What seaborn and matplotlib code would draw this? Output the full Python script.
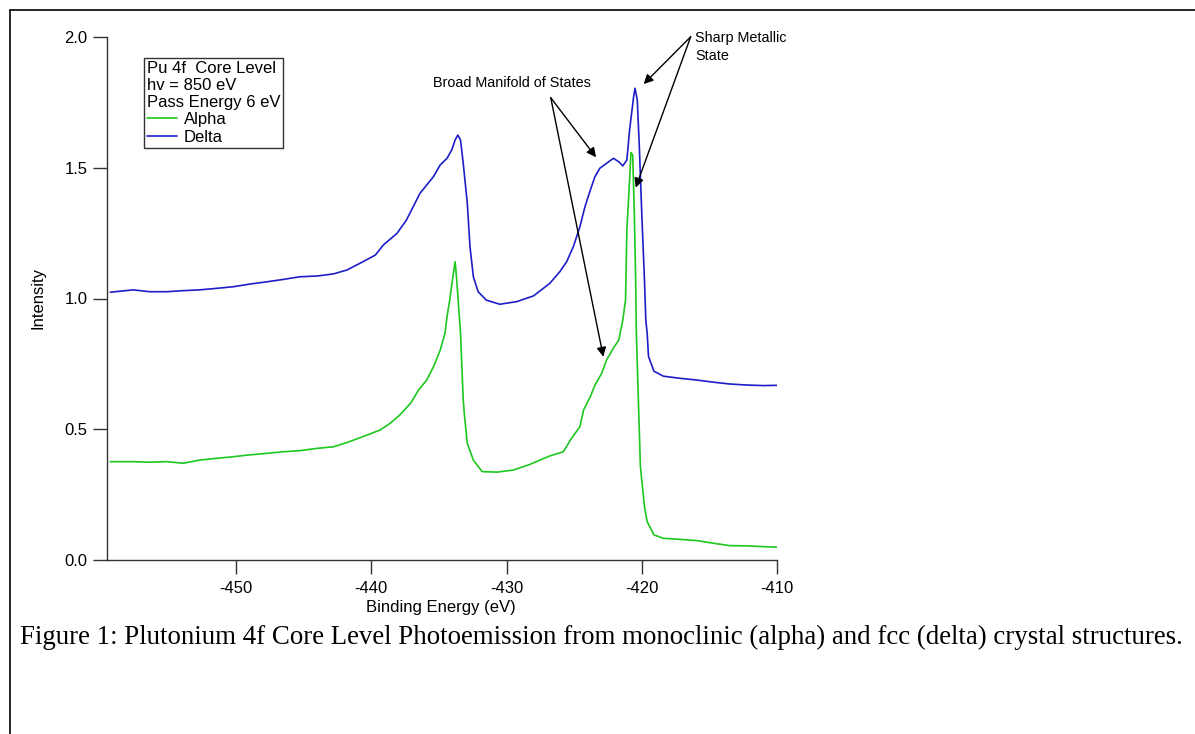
import matplotlib
matplotlib.use("Agg")
import matplotlib.pyplot as plt
from matplotlib.lines import Line2D
import seaborn as sns
import pandas as pd

# ---- data ----
delta_E = [-459.3, -457.6, -456.4, -455.1, -453.9, -452.7, -451.4, -450.2, -449.0, -447.7,
           -446.5, -445.3, -444.0, -442.8, -441.8, -440.6, -439.7, -439.1, -438.1, -437.4,
           -436.9, -436.4, -435.9, -435.4, -434.9, -434.4, -434.05, -433.8, -433.6, -433.4,
           -433.2, -432.9, -432.7, -432.45, -432.1, -431.5, -430.5, -429.25, -428.0, -426.8,
           -426.05, -425.55, -425.06, -424.57, -424.2, -423.8, -423.46, -423.1, -422.6, -422.1,
           -421.7, -421.4, -421.1, -420.9, -420.6, -420.5, -420.33, -420.18, -420.0, -419.8,
           -419.7, -419.6, -419.5, -419.1, -418.4, -417.2, -415.9, -414.7, -413.5, -412.2,
           -411.0, -410.0]
delta_I = [1.024, 1.033, 1.026, 1.026, 1.030, 1.033, 1.039, 1.045, 1.055, 1.064,
           1.073, 1.083, 1.086, 1.094, 1.109, 1.141, 1.166, 1.205, 1.249, 1.300,
           1.351, 1.402, 1.434, 1.466, 1.511, 1.536, 1.568, 1.606, 1.625, 1.606,
           1.517, 1.364, 1.198, 1.083, 1.026, 0.994, 0.978, 0.988, 1.010, 1.058,
           1.103, 1.141, 1.198, 1.275, 1.351, 1.415, 1.466, 1.498, 1.517, 1.536,
           1.523, 1.507, 1.530, 1.644, 1.772, 1.804, 1.759, 1.581, 1.326, 1.071,
           0.918, 0.867, 0.778, 0.722, 0.703, 0.695, 0.688, 0.680, 0.673, 0.669,
           0.667, 0.668]

alpha_E = [-459.3, -457.6, -456.4, -455.1, -453.9, -452.7, -451.4, -450.2, -449.0, -447.7,
           -446.5, -445.3, -444.0, -442.8, -441.8, -440.6, -439.35, -438.6, -437.9, -437.1,
           -436.5, -435.9, -435.4, -434.9, -434.55, -434.4, -434.2, -434.0, -433.8, -433.7,
           -433.4, -433.2, -433.1, -432.9, -432.45, -431.8, -430.7, -429.5, -428.3, -426.8,
           -425.8, -425.2, -424.57, -424.3, -423.8, -423.46, -422.96, -422.6, -422.1, -421.7,
           -421.4, -421.2, -421.1, -420.9, -420.8, -420.67, -420.55, -420.45, -420.4, -420.25,
           -420.1, -419.8, -419.6, -419.1, -418.4, -417.2, -415.9, -414.7, -413.5, -412.2,
           -411.0, -410.0]
alpha_I = [0.376, 0.376, 0.374, 0.376, 0.370, 0.382, 0.389, 0.395, 0.402, 0.408,
           0.414, 0.418, 0.427, 0.433, 0.449, 0.472, 0.497, 0.523, 0.554, 0.599,
           0.650, 0.688, 0.739, 0.803, 0.867, 0.930, 0.994, 1.071, 1.141, 1.083,
           0.867, 0.612, 0.548, 0.446, 0.382, 0.338, 0.336, 0.344, 0.365, 0.398,
           0.414, 0.465, 0.510, 0.574, 0.625, 0.669, 0.714, 0.765, 0.810, 0.841,
           0.918, 0.994, 1.262, 1.453, 1.558, 1.549, 1.326, 1.071, 0.867, 0.612,
           0.357, 0.204, 0.147, 0.096, 0.083, 0.079, 0.074, 0.064, 0.055, 0.054,
           0.051, 0.049]

x_ticks = [-450, -440, -430, -420, -410]
x_tick_labels = ["-450", "-440", "-430", "-420", "-410"]
y_ticks = [0.0, 0.5, 1.0, 1.5, 2.0]
y_tick_labels = ["0.0", "0.5", "1.0", "1.5", "2.0"]

legend_header = "Pu 4f  Core Level\nhv = 850 eV\nPass Energy 6 eV"
caption = ("Figure 1: Plutonium 4f Core Level Photoemission from monoclinic (alpha) "
           "and fcc (delta) crystal structures.")

# annotation anchor points (data coords)
broad_tail = (-426.73, 1.768)
broad_heads = [(-423.38, 1.540), (-422.84, 0.777)]
sharp_tail = (-416.38, 2.001)
sharp_heads = [(-419.86, 1.820), (-420.45, 1.424)]

GREEN = "#1ec81e"
BLUE = "#1e1ec8"

sns.set_style("ticks")
plt.rcParams["font.family"] = ["Liberation Sans", "DejaVu Sans"]
plt.rcParams["text.color"] = "black"
plt.rcParams["axes.labelcolor"] = "black"

fig = plt.figure(figsize=(11.95, 7.34), dpi=100)
ax = fig.add_axes([107 / 1195, 1 - 560 / 734, 670 / 1195, 523 / 734])

df_a = pd.DataFrame({"E": alpha_E, "I": alpha_I})
df_d = pd.DataFrame({"E": delta_E, "I": delta_I})
sns.lineplot(data=df_a, x="E", y="I", ax=ax, color=GREEN, lw=1.2, label="Alpha", sort=False)
sns.lineplot(data=df_d, x="E", y="I", ax=ax, color=BLUE, lw=1.2, label="Delta", sort=False)

ax.set_xlim(-459.54, -410)
ax.set_ylim(0, 2.0)
ax.set_xticks(x_ticks)
ax.set_xticklabels(x_tick_labels)
ax.set_yticks(y_ticks)
ax.set_yticklabels(y_tick_labels)
for s in ["top", "right"]:
    ax.spines[s].set_visible(False)
for s in ["left", "bottom"]:
    ax.spines[s].set_linewidth(1.0)
    ax.spines[s].set_color("#333333")
ax.tick_params(axis="both", direction="out", length=10, width=1.0, color="#333333",
               labelsize=12, labelcolor="black")
ax.tick_params(axis="x", pad=5)
ax.tick_params(axis="y", pad=4)

ax.set_xlabel("Binding Energy (eV)", fontsize=12)
ax.set_ylabel("Intensity", fontsize=12)
ax.xaxis.set_label_coords(0.4985, -0.077)
ax.yaxis.set_label_coords(-0.092, 0.501)

leg = ax.legend(loc="upper left", bbox_to_anchor=(0.0552, 0.9598), borderaxespad=0,
                title=legend_header, fontsize=12, title_fontsize=12, alignment="left",
                frameon=True, fancybox=False, shadow=False, borderpad=0.18,
                labelspacing=0.15, handlelength=1.8, handletextpad=0.4)
leg.get_frame().set_edgecolor("#333333")
leg.get_frame().set_linewidth(1.0)
leg.get_frame().set_alpha(1)
leg.get_title().set_linespacing(1.15)
leg.get_title().set_color("black")
for t in leg.get_texts():
    t.set_color("black")

# annotations
arrow_kw = dict(arrowstyle="-|>", color="black", lw=1.0, mutation_scale=14,
                shrinkA=0, shrinkB=0)
ax.text(-435.43, 1.824, "Broad Manifold of States", fontsize=10.4, ha="left", va="center")
for h in broad_heads:
    ax.annotate("", xy=h, xytext=broad_tail, arrowprops=arrow_kw, annotation_clip=False)
ax.text(-416.06, 1.962, "Sharp Metallic\nState", fontsize=10.4, ha="left", va="center",
        linespacing=1.4)
for h in sharp_heads:
    ax.annotate("", xy=h, xytext=sharp_tail, arrowprops=arrow_kw, annotation_clip=False)

# caption
fig.text(20 / 1195, 1 - 637 / 734, caption, fontsize=19.4, va="center", ha="left",
         color="black", family=["Liberation Serif", "DejaVu Serif"])

# frame lines (top and left)
fig.add_artist(Line2D([10 / 1195, 1], [1 - 10 / 734, 1 - 10 / 734], color="black", lw=1.2,
                      transform=fig.transFigure))
fig.add_artist(Line2D([10 / 1195, 10 / 1195], [0, 1 - 10 / 734], color="black", lw=1.2,
                      transform=fig.transFigure))

fig.savefig("out.png", dpi=100)
